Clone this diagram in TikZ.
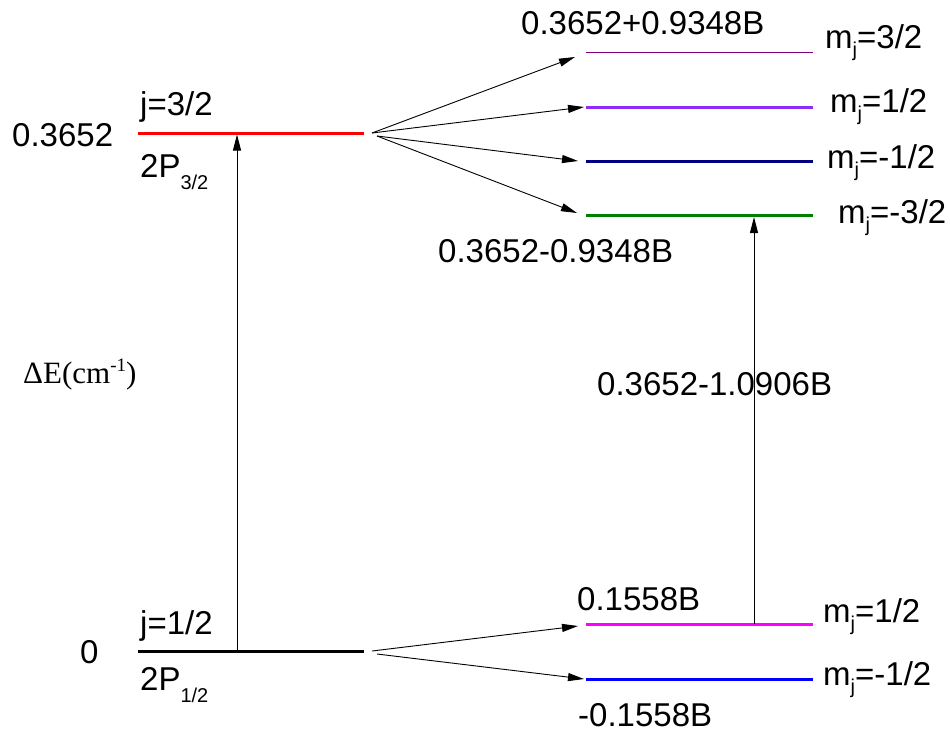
\documentclass[tikz,border=0pt]{standalone}
\usepackage{fontspec}
\setmainfont{Liberation Sans}
\newfontfamily\timesfont{Liberation Serif}
\usetikzlibrary{arrows.meta}

\definecolor{lvPurple}{HTML}{800080}
\definecolor{lvViolet}{HTML}{8F2CF5}
\definecolor{lvNavy}{HTML}{000080}
\definecolor{lvGreen}{HTML}{008000}
\definecolor{lvMagenta}{HTML}{FF00FF}
\definecolor{lvBlue}{HTML}{0000FF}
\definecolor{lvRed}{HTML}{FF0000}

% lowered small subscript (offset in pt)
\newcommand\lowsub[2]{\raisebox{-#1pt}{\fontsize{20}{20}\selectfont #2}}
\newcommand\mj[1]{m\lowsub{8}{j}#1}

\begin{document}
\begin{tikzpicture}[x=1pt,y=-1pt,
  level/.style={line width=3pt},
  thinlevel/.style={line width=1.8pt},
  trans/.style={line width=0.9pt,-{Triangle[length=16pt,width=8pt]}},
  lbl/.style={anchor=base west,inner sep=0pt,font=\fontsize{33}{33}\selectfont}]

\useasboundingbox (0,0) rectangle (950,732);

% energy levels (end points)
\coordinate (PhL) at (138,133);   \coordinate (PhR) at (364,133);
\coordinate (PlL) at (138,651);   \coordinate (PlR) at (364,651);
\coordinate (m3L) at (586,52.5);  \coordinate (m3R) at (813,52.5);
\coordinate (m1L) at (586,107);   \coordinate (m1R) at (813,107);
\coordinate (mm1L) at (586,161);  \coordinate (mm1R) at (813,161);
\coordinate (mm3L) at (586,215.5);\coordinate (mm3R) at (813,215.5);
\coordinate (n1L) at (586,624);   \coordinate (n1R) at (813,624);
\coordinate (nm1L) at (586,679);  \coordinate (nm1R) at (813,679);

\draw[level,lvRed] (PhL) -- (PhR);
\draw[level,black] (PlL) -- (PlR);
\draw[thinlevel,lvPurple] (m3L) -- (m3R);
\draw[level,lvViolet] (m1L) -- (m1R);
\draw[level,lvNavy] (mm1L) -- (mm1R);
\draw[level,lvGreen] (mm3L) -- (mm3R);
\draw[level,lvMagenta] (n1L) -- (n1R);
\draw[level,lvBlue] (nm1L) -- (nm1R);

% splitting fans
\coordinate (fu1) at (372,133);  \coordinate (fu2) at (377,136);
\coordinate (fl1) at (372,651);  \coordinate (fl2) at (377,654);
\coordinate (t3) at (575,57);    \coordinate (t1) at (584,107);
\coordinate (tm1) at (578,161);  \coordinate (tm3) at (577,213);
\coordinate (s1) at (578,626);   \coordinate (sm1) at (584,679);

\draw[trans] (fu1) -- (t3);
\draw[trans] (fu1) -- (t1);
\draw[trans] (fu2) -- (tm1);
\draw[trans] (fu2) -- (tm3);
\draw[trans] (fl1) -- (s1);
\draw[trans] (fl2) -- (sm1);

% vertical transitions
\coordinate (vl0) at (237,651);  \coordinate (vl1) at (237,134.5);
\coordinate (vr0) at (754,624);  \coordinate (vr1) at (754,217);
\draw[trans] (vl0) -- (vl1);
\draw[trans] (vr0) -- (vr1);

% left labels
\node[lbl] (eH) at (12,146) {0.3652};
\node[lbl] (eL) at (80,663) {0};
\node[lbl] (jH) at (140,115) {j=3/2};
\node[lbl] (jL) at (140,634) {j=1/2};
\node[lbl] (tH) at (140,177) {2P\lowsub{12}{3/2}};
\node[lbl] (tL) at (140,690) {2P\lowsub{12}{1/2}};
\node[anchor=base west,inner sep=0pt,font=\timesfont\fontsize{31}{31}\selectfont] (axis) at (23,383)
  {ΔE(cm\raisebox{12pt}{\fontsize{19}{19}\selectfont -1})};

% right labels
\node[lbl] (e3) at (521,34) {0.3652+0.9348B};
\node[lbl] (em3) at (438,262) {0.3652-0.9348B};
\node[lbl] (ed) at (597,395) {0.3652-1.0906B};
\node[lbl] (e1) at (577,610) {0.1558B};
\node[lbl] (em1) at (578,726) {-0.1558B};

\node[lbl] (k3) at (825,48) {\mj{=3/2}};
\node[lbl] (k1) at (830,112) {\mj{=1/2}};
\node[lbl] (km1) at (827,168) {\mj{=-1/2}};
\node[lbl] (km3) at (838,223) {\mj{=-3/2}};
\node[lbl] (n1) at (823,622) {\mj{=1/2}};
\node[lbl] (nm1) at (823,685) {\mj{=-1/2}};
\end{tikzpicture}
\end{document}
